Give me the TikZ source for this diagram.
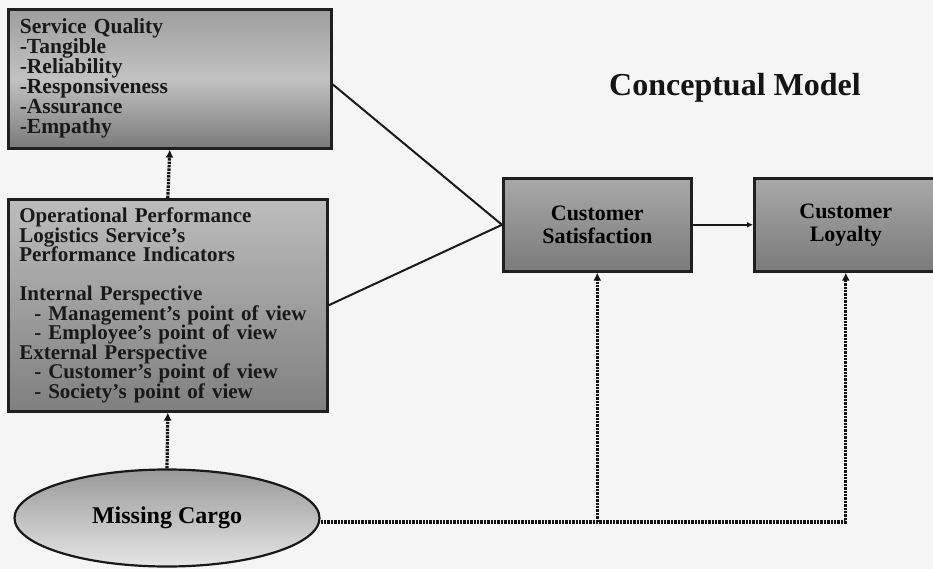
\documentclass[tikz,border=0pt]{standalone}
\usepackage{fontspec}
\setmainfont{Liberation Serif}
\usetikzlibrary{arrows.meta,shapes.geometric,calc}
\begin{document}
\begin{tikzpicture}[x=1pt,y=-1pt,
  box/.style={draw=black!88, line width=2.6pt, rectangle, inner sep=0pt,
    top color=black!38, bottom color=black!52, middle color=black!24},
  conn/.style={draw=black!90, line width=2pt},
  dotline/.style={draw=black!92, line width=3.2pt, dash pattern=on 2.4pt off 1pt},
  tip/.style={-{Latex[length=8pt,width=8pt]}},
  boxtext/.style={font=\bfseries\fontsize{21.5}{20}\selectfont, text=black!90}]
\clip (0,0) rectangle (933,569);
\fill[black!4] (0,0) rectangle (933,569);

\node[box, boxtext, anchor=north west, minimum width=323pt, minimum height=139pt,
  text width=300pt, align=left] (sq) at (7,8)
  {Service Quality\\-Tangible\\-Reliability\\-Responsiveness\\-Assurance\\-Empathy};

\node[box, font=\bfseries\fontsize{21}{19.5}\selectfont, text=black!90, anchor=north west, minimum width=319pt, minimum height=212pt,
  text width=297pt, align=left, top color=black!26, middle color=black!34, bottom color=black!50] (op) at (7,198)
  {Operational Performance\\Logistics Service's\\Performance Indicators\\[19.5pt]
   Internal Perspective\\
   \hspace*{15pt}- Management's point of view\\
   \hspace*{15pt}- Employee's point of view\\
   External Perspective\\
   \hspace*{15pt}- Customer's point of view\\
   \hspace*{15pt}- Society's point of view};

\node[box, font=\bfseries\fontsize{22}{23}\selectfont, anchor=north west,
  minimum width=188pt, minimum height=93pt, align=center,
  top color=black!34, middle color=black!24, bottom color=black!52] (cs) at (502,177)
  {Customer\\Satisfaction};

\node[box, font=\bfseries\fontsize{22}{23}\selectfont, anchor=north west,
  minimum width=183pt, minimum height=93pt, align=center,
  top color=black!34, middle color=black!24, bottom color=black!52] (cl) at (753,177)
  {Customer\\Loyalty};

\node[ellipse, draw=black!90, line width=2.2pt, inner sep=0pt,
  minimum width=305pt, minimum height=97pt,
  top color=black!40, bottom color=black!10,
  font=\bfseries\fontsize{24}{26}\selectfont] (mc) at (167,518) {Missing Cargo};

\node[font=\bfseries\fontsize{32}{36}\selectfont, text=black!92] (title) at (735,88) {Conceptual Model};

\draw[conn] ([yshift=-5.5pt]sq.east) -- (cs.west);
\draw[conn] (op.east) -- (cs.west);
\draw[conn, -{Latex[length=6pt,width=6pt]}] (cs.east) -- (cl.west);
\draw[dotline, tip] (op.north) -- (sq.south);
\draw[dotline, tip] (mc.north) -- (op.south);
\coordinate (e) at ([yshift=-4pt]mc.east);
\draw[dotline, tip] (e) -| (cl.south);
\coordinate (j) at (cs.south |- e);
\draw[dotline, tip] (j) -- (cs.south);
\end{tikzpicture}
\end{document}
